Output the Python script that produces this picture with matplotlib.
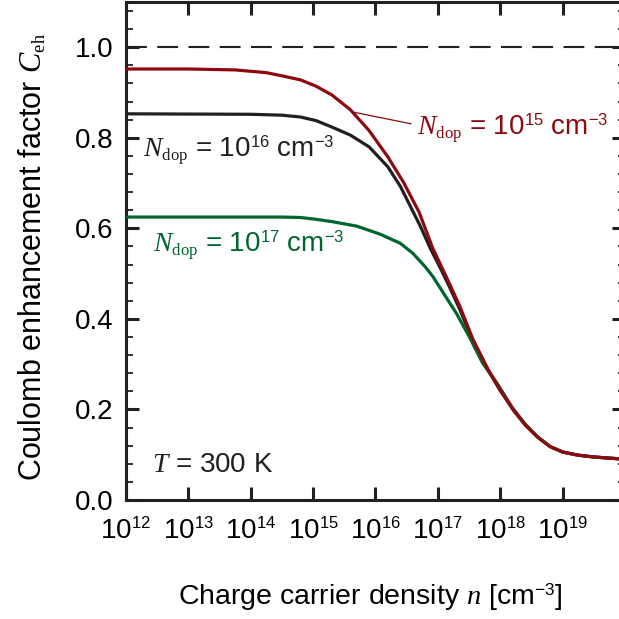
import numpy as np
import matplotlib as mpl
mpl.use('Agg')
import matplotlib.pyplot as plt
import matplotlib._mathtext as mathtext_mod
from matplotlib.ticker import FixedLocator, LogLocator, MultipleLocator, NullFormatter

mpl.rcParams['font.family'] = ['Liberation Sans', 'DejaVu Sans']
mpl.rcParams['mathtext.fontset'] = 'custom'
mpl.rcParams['mathtext.rm'] = 'Liberation Sans'
mpl.rcParams['mathtext.it'] = 'Liberation Serif:italic'
mpl.rcParams['mathtext.sf'] = 'Liberation Serif'
## smaller super/subscripts, closer to the reference
mathtext_mod.SHRINK_FACTOR = 0.6

## values (log10 of n, C_eh)
logn_15 = [12.0, 13.0, 13.75, 14.25, 14.5, 14.8, 15.05, 15.3, 15.6, 15.9, 16.2, 16.45,
           16.7, 16.92, 17.15, 17.35, 17.56, 17.8, 18.0, 18.21, 18.4, 18.6, 18.8,
           19.0, 19.25, 19.5, 20.0]
c_15 = [0.952, 0.952, 0.950, 0.944, 0.937, 0.928, 0.914, 0.895, 0.862, 0.816, 0.758, 0.702,
        0.636, 0.556, 0.489, 0.429, 0.356, 0.290, 0.243, 0.199, 0.166, 0.139, 0.118,
        0.106, 0.099, 0.095, 0.090]

logn_16 = [12.0, 14.0, 14.5, 14.8, 15.05, 15.3, 15.6, 15.9, 16.2, 16.4, 16.56, 16.72,
           16.88, 17.05, 17.2, 17.35, 17.56, 17.8, 18.0, 18.21, 18.4, 18.6, 18.8,
           19.0, 19.25, 19.5, 20.0]
c_16 = [0.853, 0.852, 0.850, 0.846, 0.838, 0.824, 0.806, 0.780, 0.736, 0.693, 0.649, 0.605,
        0.556, 0.510, 0.467, 0.422, 0.352, 0.288, 0.242, 0.199, 0.166, 0.139, 0.118,
        0.106, 0.099, 0.095, 0.090]

logn_17 = [12.0, 14.5, 14.8, 15.05, 15.3, 15.7, 16.08, 16.4, 16.6, 16.8, 16.92, 17.1,
           17.3, 17.5, 17.72, 17.95, 18.2, 18.4, 18.6, 18.8, 19.0, 19.25, 19.5, 20.0]
c_17 = [0.625, 0.625, 0.624, 0.620, 0.615, 0.605, 0.587, 0.567, 0.545, 0.515, 0.494, 0.455,
        0.412, 0.362, 0.302, 0.258, 0.203, 0.168, 0.139, 0.118, 0.106, 0.099, 0.095, 0.090]

xticks = [1e12, 1e13, 1e14, 1e15, 1e16, 1e17, 1e18, 1e19]
xticklabels = [r'$\mathregular{10^{%d}}$' % e for e in range(12, 20)]
yticks = [0.0, 0.2, 0.4, 0.6, 0.8, 1.0]

red = '#8c0a0f'
black = '#231f20'
green = '#00652e'

fig = plt.figure(figsize=(6.19, 6.19), dpi=100)
W = 619.0
ax = fig.add_axes([125.7/W, 119/W, (625-125.7)/W, (500-2)/W])

ax.plot(np.power(10.0, logn_16), c_16, color=black, lw=2.3, zorder=3)
ax.plot(np.power(10.0, logn_17), c_17, color=green, lw=2.3, zorder=3)
ax.plot(np.power(10.0, logn_15), c_15, color=red, lw=2.3, zorder=4)
ax.axhline(1.0, color=black, lw=1.5, dashes=(10, 5), zorder=2)

ax.set_xscale('log')
ax.set_xlim(1e12, 1e20)
ax.set_ylim(0, 1.1)

ax.xaxis.set_major_locator(FixedLocator(xticks))
ax.set_xticklabels(xticklabels)
ax.xaxis.set_minor_locator(LogLocator(base=10, subs=np.arange(2, 10)))
ax.xaxis.set_minor_formatter(NullFormatter())
ax.set_yticks(yticks)
ax.set_yticklabels(['%.1f' % v for v in yticks])
ax.yaxis.set_minor_locator(MultipleLocator(0.04))

for s in ax.spines.values():
  s.set_linewidth(2.2)
  s.set_color(black)

ax.tick_params(which='both', direction='in', top=True, right=True, color=black)
ax.tick_params(which='major', length=9.5, width=2.2, labelsize=20)
ax.tick_params(which='minor', length=5, width=1.3)
ax.tick_params(axis='x', which='major', pad=13)
ax.tick_params(axis='y', which='major', pad=9)

## axis titles placed by hand in figure pixels
fig.text(370/W, 1-597/W, r'Charge carrier density $n$ [cm$^{\mathregular{-3}}$]',
         fontsize=20.5, ha='center', va='center')
fig.text(33/W, 1-257/W, r'Coulomb enhancement factor $C_{\mathsf{eh}}$',
         fontsize=22, ha='center', va='center', rotation=90)

ax.text(417/W, 1-128/W, r'$N_{\mathsf{dop}}$ = 10$^{\mathregular{15}}$ cm$^{\mathregular{-3}}$',
        transform=fig.transFigure, color=red, fontsize=20, va='center', ha='left')
ax.text(143/W, 1-150/W, r'$N_{\mathsf{dop}}$ = 10$^{\mathregular{16}}$ cm$^{\mathregular{-3}}$',
        transform=fig.transFigure, color=black, fontsize=20, va='center', ha='left')
ax.text(153/W, 1-245/W, r'$N_{\mathsf{dop}}$ = 10$^{\mathregular{17}}$ cm$^{\mathregular{-3}}$',
        transform=fig.transFigure, color=green, fontsize=20, va='center', ha='left')
ax.text(152/W, 1-465/W, r'$T$ = 300 K', transform=fig.transFigure, color=black,
        fontsize=20, va='center', ha='left')

## leader line for the 10^15 label
ax.plot([10**15.64, 10**16.57], [0.857, 0.831], color=red, lw=0.9, zorder=4)

fig.savefig('out.png', dpi=100)
